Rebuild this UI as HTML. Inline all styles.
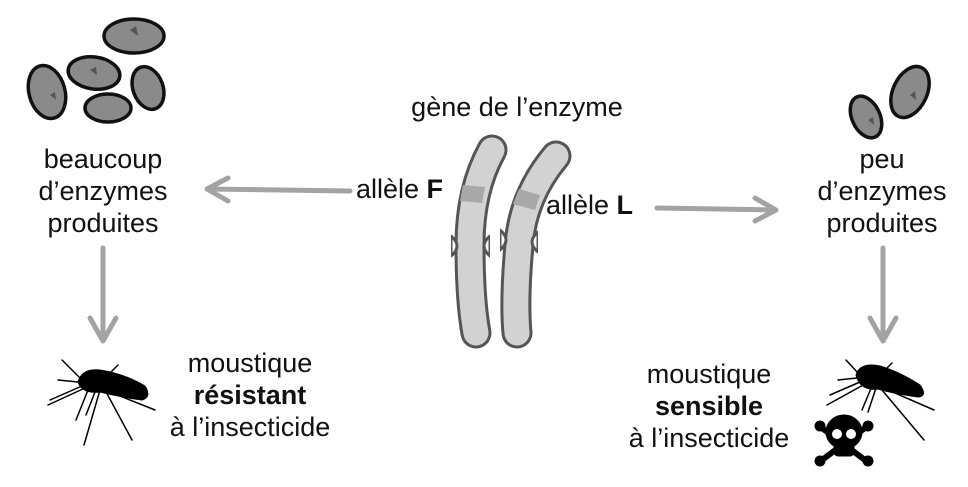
<!DOCTYPE html>
<html><head><meta charset="utf-8"><style>
html,body{margin:0;padding:0;background:#fff;}
svg{display:block}
text{font-family:"Liberation Sans",Arial,sans-serif;font-size:27px;fill:#111}
.b{font-weight:bold}
</style></head><body>
<svg width="968" height="487" viewBox="0 0 968 487" xmlns="http://www.w3.org/2000/svg">
<!-- enzymes -->
<g fill="#8a8a8a" stroke="#111" stroke-width="3.5" stroke-linejoin="round">
<ellipse cx="47" cy="92" rx="18" ry="27" transform="rotate(-15 47 92)"/>
<ellipse cx="94" cy="73" rx="26" ry="16" transform="rotate(8 94 73)"/>
<ellipse cx="134" cy="36" rx="30" ry="17"/>
<ellipse cx="148" cy="88" rx="15" ry="22" transform="rotate(-20 148 88)"/>
<ellipse cx="108" cy="108" rx="23" ry="14"/>
<ellipse cx="866" cy="117" rx="14" ry="22" transform="rotate(-25 866 117)"/>
<ellipse cx="910" cy="92" rx="17" ry="27" transform="rotate(25 910 92)"/>
</g>
<g fill="#555">
<path d="M130 30 l6 -4 l2 10 z M90 70 l6 -3 l1 8 z M50 95 l5 -3 l1 8 z M910 95 l5 -4 l1 9 z M868 120 l5 -3 l1 8 z"/>
</g>
<!-- texts -->
<text x="103" y="168" text-anchor="middle">beaucoup</text>
<text x="103" y="200" text-anchor="middle">d’enzymes</text>
<text x="103" y="232" text-anchor="middle">produites</text>
<text x="882" y="168" text-anchor="middle">peu</text>
<text x="882" y="200" text-anchor="middle">d’enzymes</text>
<text x="882" y="232" text-anchor="middle">produites</text>
<text x="517" y="116" text-anchor="middle">gène de l’enzyme</text>
<text x="356" y="198">allèle <tspan class="b">F</tspan></text>
<text x="546" y="214">allèle <tspan class="b">L</tspan></text>
<text x="250" y="372" text-anchor="middle">moustique</text>
<text x="250" y="404" text-anchor="middle" class="b">résistant</text>
<text x="250" y="436" text-anchor="middle">à l’insecticide</text>
<text x="709" y="383" text-anchor="middle">moustique</text>
<text x="709" y="415" text-anchor="middle" class="b">sensible</text>
<text x="709" y="447" text-anchor="middle">à l’insecticide</text>
<!-- arrows -->
<g stroke="#a3a3a3" stroke-width="5" fill="none" stroke-linecap="round" stroke-linejoin="round">
<path d="M350 191 L208 189"/><path d="M228 178 L207 189 L228 201"/>
<path d="M657 208 L775 210"/><path d="M755 198 L776 210 L755 221"/>
<path d="M103 248 L103 340"/><path d="M90 318 L103 341 L116 318"/>
<path d="M883 248 L883 340"/><path d="M870 318 L883 341 L896 318"/>
</g>
<!-- chromosomes -->
<g fill="none" stroke-linecap="round">
<path d="M492 150 Q470 190 470 245 Q470 300 476 333" stroke="#555" stroke-width="31"/>
<path d="M556 156 Q523 195 519 245 Q514 300 517 333" stroke="#555" stroke-width="31"/>
<path d="M492 150 Q470 190 470 245 Q470 300 476 333" stroke="#d2d2d2" stroke-width="25"/>
<path d="M556 156 Q523 195 519 245 Q514 300 517 333" stroke="#d2d2d2" stroke-width="25"/>
</g>
<path d="M463 185 L485 187 L482 203 L460 201 Z" fill="#a8a8a8"/>
<path d="M519 189 L540 195 L535 210 L513 204 Z" fill="#a8a8a8"/>
<g fill="#fff" stroke="#555" stroke-width="3" stroke-linejoin="round">
<path d="M451 236 Q463 246 451 256 Z"/><path d="M490 236 Q478 246 490 256 Z"/>
<path d="M500 230 Q512 240 500 250 Z"/><path d="M538 232 Q526 242 538 252 Z"/>
</g>
<g fill="#fff"><rect x="446" y="234" width="5" height="24"/><rect x="490" y="234" width="7" height="24"/><rect x="495" y="228" width="5" height="24"/><rect x="538" y="230" width="5" height="24"/></g>
<!-- left mosquito -->
<g fill="#000" stroke="#000" stroke-linecap="round">
<path d="M78 382 Q82 368 100 370 Q125 374 145 386 Q152 397 142 400 Q120 397 100 392 Q82 394 78 382Z"/>
<g stroke-width="1.5" fill="none">
<path d="M80 378 L62 360"/><path d="M78 382 L58 380"/><path d="M82 386 L50 400"/>
<path d="M85 388 L48 405"/><path d="M88 390 L76 420"/><path d="M95 392 L86 415"/>
<path d="M100 390 L84 445"/><path d="M105 390 L132 440"/><path d="M110 392 L155 410"/>
<path d="M108 375 L118 365"/>
</g>
</g>
<!-- right mosquito -->
<g fill="#000" stroke="#000" stroke-linecap="round">
<path d="M856 375 Q860 362 880 366 Q900 372 920 385 Q928 396 918 397 Q895 394 878 389 Q860 391 856 375Z"/>
<g stroke-width="1.5" fill="none">
<path d="M858 373 L846 360"/><path d="M857 378 L838 380"/><path d="M860 382 L830 395"/>
<path d="M865 384 L827 405"/><path d="M872 386 L862 410"/><path d="M876 388 L868 412"/>
<path d="M882 390 L924 440"/><path d="M888 390 L934 410"/><path d="M885 370 L892 363"/>
</g>
</g>
<!-- skull -->
<g fill="#000" stroke="#000">
<path d="M822 428 L865 460" stroke-width="6"/><path d="M865 428 L822 460" stroke-width="6"/>
<circle cx="820" cy="426" r="5"/><circle cx="868" cy="426" r="5"/><circle cx="820" cy="461" r="5"/><circle cx="868" cy="461" r="5"/>
<ellipse cx="844" cy="432" rx="18" ry="17"/>
<rect x="834" y="440" width="20" height="16" rx="4"/>
<ellipse cx="837" cy="434" rx="5" ry="5" fill="#fff" stroke="none"/>
<ellipse cx="851" cy="434" rx="5" ry="5" fill="#fff" stroke="none"/>
</g>
</svg>
</body></html>
